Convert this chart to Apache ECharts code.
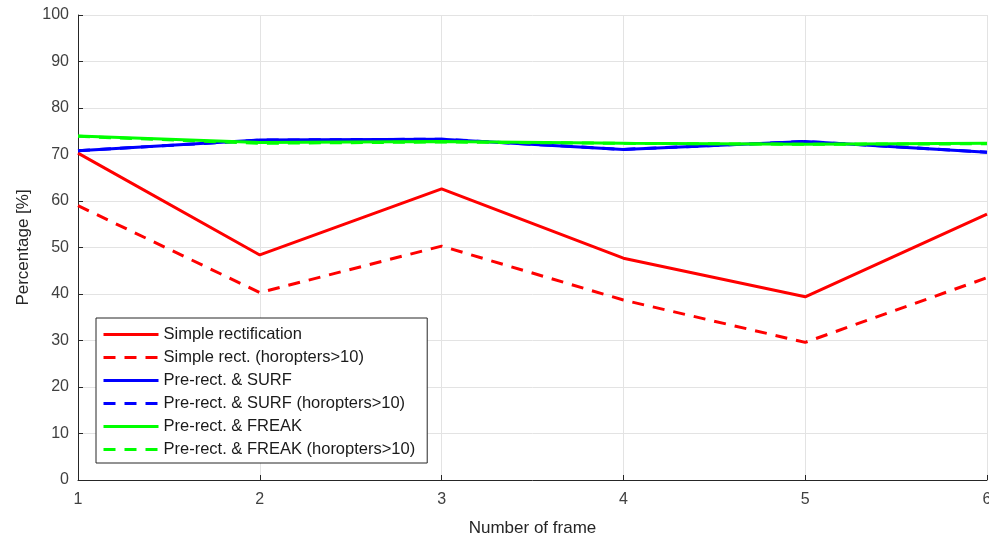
<!DOCTYPE html>
<html>
<head>
<meta charset="utf-8">
<title>Percentage per frame</title>
<script src="https://cdn.jsdelivr.net/npm/echarts@6/dist/echarts.min.js"></script>
<style>
    html, body { margin: 0; padding: 0; background: #fff; }
    #main { width: 989px; height: 540px; }
</style>
</head>
<body>
<div id="main"></div>
<script>
    // frame numbers
    let frames = [1, 2, 3, 4, 5, 6];

    // percentage values
    let simpleRect = [70.3, 48.4, 62.6, 47.7, 39.4, 57.2];
    let simpleRectHoro = [59.0, 40.3, 50.3, 38.7, 29.6, 43.5];
    let surf = [70.8, 73.1, 73.3, 71.1, 72.8, 70.5];
    let surfHoro = [70.8, 73.1, 73.3, 71.1, 72.8, 70.5];
    let freak = [74.0, 72.6, 72.8, 72.4, 72.2, 72.4];
    let freakHoro = [73.9, 72.4, 72.7, 72.4, 72.2, 72.3];

    let seriesNames = [
        'Simple rectification',
        'Simple rect. (horopters>10)',
        'Pre-rect. & SURF',
        'Pre-rect. & SURF (horopters>10)',
        'Pre-rect. & FREAK',
        'Pre-rect. & FREAK (horopters>10)'
    ];

    function pairs(values) {
        return frames.map(function(f, i) { return [f, values[i]]; });
    }

    function makeLine(name, values, color, dashed) {
        return {
            name: name,
            type: 'line',
            data: pairs(values),
            symbol: 'none',
            smooth: false,
            animation: false,
            lineStyle: {
                color: color,
                width: 3,
                type: dashed ? [12, 9] : 'solid'
            },
            itemStyle: {color: color}
        };
    }

    let font = 'Liberation Sans, Arial, sans-serif';
    let axisText = {color: '#404040', fontSize: 16, fontFamily: font};

    let chart = echarts.init(document.getElementById('main'));
    chart.setOption({
        backgroundColor: '#ffffff',
        animation: false,
        grid: {left: 78, right: 2, top: 15, bottom: 60, outerBoundsMode: 'none'},
        legend: {
            orient: 'vertical',
            left: 96,
            top: 318,
            padding: [8, 12, 5, 6],
            itemGap: 6,
            itemWidth: 55,
            itemHeight: 16,
            backgroundColor: '#ffffff',
            borderColor: '#262626',
            borderWidth: 1,
            borderRadius: 0,
            data: seriesNames,
            itemStyle: {opacity: 0},
            lineStyle: {width: 3},
            textStyle: {color: '#1a1a1a', fontSize: 16.5, fontFamily: font}
        },
        xAxis: {
            type: 'value',
            min: 1,
            max: 6,
            interval: 1,
            name: 'Number of frame',
            nameLocation: 'middle',
            nameGap: 40,
            nameTextStyle: {color: '#262626', fontSize: 17, fontFamily: font},
            axisLine: {show: true, lineStyle: {color: '#262626', width: 1}},
            axisTick: {show: true, inside: true, length: 5, lineStyle: {color: '#262626'}},
            axisLabel: Object.assign({margin: 12}, axisText),
            splitLine: {show: true, lineStyle: {color: '#e3e3e3', width: 1}}
        },
        yAxis: {
            type: 'value',
            min: 0,
            max: 100,
            interval: 10,
            name: 'Percentage [%]',
            nameLocation: 'middle',
            nameGap: 46,
            nameTextStyle: {color: '#262626', fontSize: 17, fontFamily: font},
            axisLine: {show: true, lineStyle: {color: '#262626', width: 1}},
            axisTick: {show: true, inside: true, length: 5, lineStyle: {color: '#262626'}},
            axisLabel: Object.assign({margin: 9}, axisText),
            splitLine: {show: true, lineStyle: {color: '#e3e3e3', width: 1}}
        },
        series: [
            makeLine(seriesNames[0], simpleRect, '#ff0000', false),
            makeLine(seriesNames[1], simpleRectHoro, '#ff0000', true),
            makeLine(seriesNames[2], surf, '#0000ff', false),
            makeLine(seriesNames[3], surfHoro, '#0000ff', true),
            makeLine(seriesNames[4], freak, '#00ff00', false),
            makeLine(seriesNames[5], freakHoro, '#00ff00', true)
        ]
    });
</script>
</body>
</html>
